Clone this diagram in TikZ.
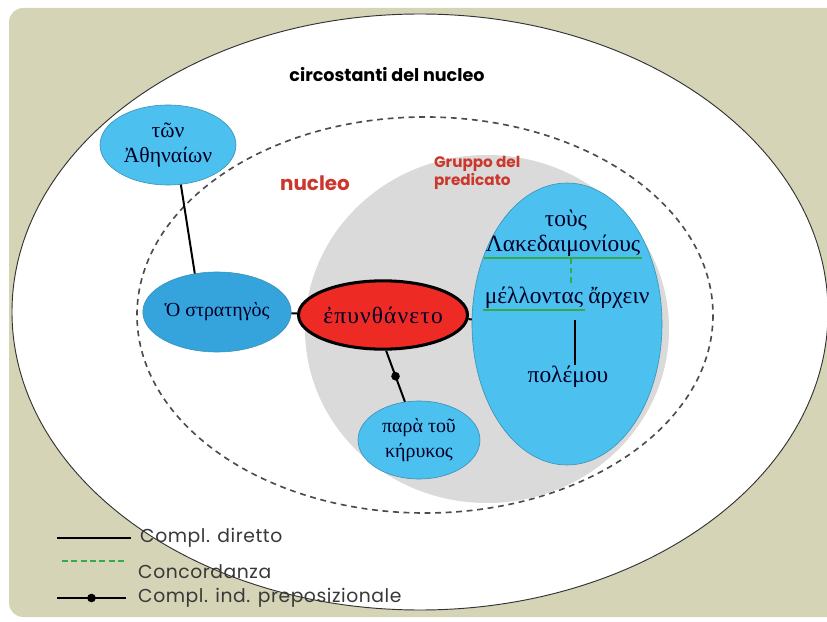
\documentclass[tikz,border=0pt]{standalone}
\usepackage{fontspec}
\setmainfont{Poppins}
\newfontfamily\greek{Liberation Serif}
\usetikzlibrary{shapes.geometric, positioning}
\definecolor{khaki}{HTML}{D5D4B7}
\definecolor{skyblue}{HTML}{4CC0EE}
\definecolor{deepsky}{HTML}{35A4DC}
\definecolor{verbred}{HTML}{EE2A24}
\definecolor{labelred}{HTML}{CC372D}
\definecolor{agreegreen}{HTML}{35A94B}
\definecolor{predgray}{HTML}{DADADA}
\definecolor{legendtext}{HTML}{383838}
\newcommand{\gsize}[1]{\greek\fontsize{#1}{#1}\selectfont}

\begin{document}
\begin{tikzpicture}[x=0.03cm, y=-0.03cm,
  bubble/.style={ellipse, fill=skyblue, draw=skyblue!75!black, line width=0.5pt,
    align=center, inner sep=0pt, text=black!85!blue},
  greekword/.style={inner sep=1pt, text=black!85!blue, font=\gsize{20}},
  link/.style={line width=1.7pt, black},
  concord/.style={line width=1.7pt, agreegreen, dash pattern=on 5pt off 3pt},
  legendlabel/.style={anchor=west, inner sep=0pt, text=legendtext,
    font=\fontsize{16}{18}\selectfont\addfontfeatures{LetterSpace=3}}]
  \useasboundingbox (0,0) rectangle (827,622);
  % background and the two rings
  \fill[khaki, rounded corners=12pt] (9,8) rectangle (845,617);
  \draw[fill=white, draw=black!80, line width=0.8pt] (420,312) ellipse [x radius=408, y radius=298];
  \draw[black!70, line width=1.4pt, dash pattern=on 5pt off 4pt] (425,315) ellipse [x radius=288, y radius=198];
  \fill[predgray] (487,329) ellipse [x radius=182, y radius=174];
  % ring labels
  \node[font=\fontsize{15}{17}\selectfont\bfseries] (circ) at (387,75) {circostanti del nucleo};
  \node[text=labelred, font=\fontsize{17}{20}\selectfont\bfseries] (nuc) at (315,183) {nucleo};
  \node[text=labelred, align=left, anchor=west, font=\fontsize{13}{15}\selectfont\bfseries] (grp) at (430,173) {Gruppo del\\predicato};
  % words
  \node[bubble, minimum width=4.08cm, minimum height=2.4cm, font=\gsize{18.5}] (athen) at (168,145) {τῶν\\[2pt]Ἀθηναίων};
  \node[bubble, fill=deepsky, minimum width=3.9cm, minimum height=2.4cm, font=\gsize{17}] (strat) at (217,312) {Ὁ στρατηγὸς};
  \node[bubble, fill=verbred, draw=black, line width=2.6pt, minimum width=4.1cm, minimum height=2.05cm,
    font=\gsize{20}\addfontfeatures{LetterSpace=5}] (verb) at (383,315) {ἐπυνθάνετο};
  \node[bubble, minimum width=3.66cm, minimum height=2.34cm, font=\gsize{17}] (keryk) at (419,440) {παρὰ τοῦ\\[4pt]κήρυκος};
  \node[bubble, minimum width=5.7cm, minimum height=8.46cm] (pred) at (567,324) {};
  \node[greekword] (tous) at (566,220) {τοὺς};
  \node[greekword] (lak) at (563,246) {Λακεδαιμονίους};
  \node[greekword] (mell) at (534,298) {μέλλοντας};
  \node[greekword, right=2pt of mell] (arch) {ἄρχειν};
  \node[greekword] (polem) at (568,377) {πολέμου};
  % connectors
  \draw[link] (athen.-72) -- (strat.120);
  \draw[link] (strat) -- (verb);
  \draw[link] (verb) -- (pred);
  \draw[link] (verb.-85) -- (keryk) node[midway, circle, fill=black, inner sep=2.6pt] (dot) {};
  \draw[agreegreen, line width=1.7pt] (lak.south west) -- (lak.south east);
  \draw[agreegreen, line width=1.7pt] (mell.south west) -- (mell.south east);
  \draw[concord] ([xshift=0.24cm]lak.south) -- ([xshift=0.24cm]lak.south |- mell.north);
  \draw[link] ([xshift=-0.3cm, yshift=-0.3cm]mell.south east) -- ([xshift=-0.3cm]mell.south east |- polem.north);
  % legend
  \coordinate (l1a) at (57,538);  \coordinate (l1b) at (131,538);
  \coordinate (l2a) at (62,561);  \coordinate (l2b) at (126,561);
  \coordinate (l3a) at (57,598);  \coordinate (l3b) at (126,598);
  \draw[link] (l1a) -- (l1b);
  \draw[concord] (l2a) -- (l2b);
  \draw[link] (l3a) -- (l3b) node[midway, circle, fill=black, inner sep=2.6pt] (ldot) {};
  \node[legendlabel] (lbl1) at (140,538) {Compl. diretto};
  \node[legendlabel] (lbl2) at (138,572) {Concordanza};
  \node[legendlabel] (lbl3) at (138,598) {Compl. ind. preposizionale};
\end{tikzpicture}
\end{document}
